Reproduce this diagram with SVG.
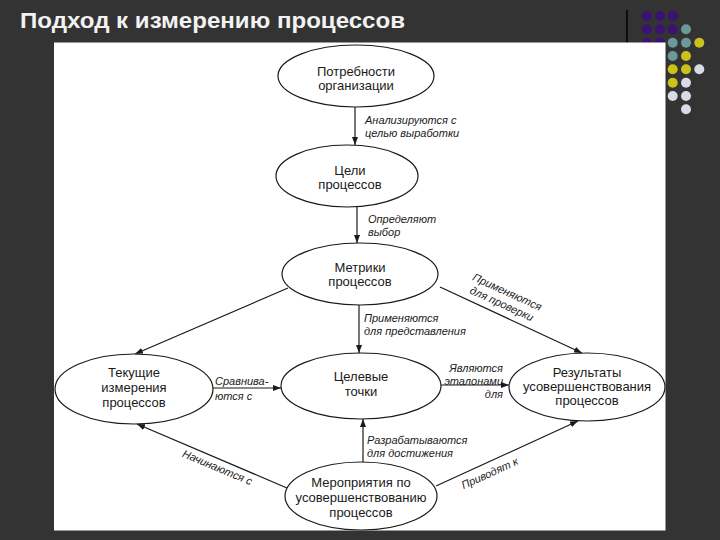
<svg xmlns="http://www.w3.org/2000/svg" width="720" height="540" viewBox="0 0 720 540">
<defs>
<style>
.node ellipse{fill:#fff;stroke:#1a1a1a;stroke-width:1.2}
.node text{font-family:"Liberation Sans",Arial,sans-serif;font-size:13px;fill:#1a1a1a;text-anchor:middle}
.lbl{font-family:"Liberation Sans",Arial,sans-serif;font-size:11px;font-style:italic;fill:#1a1a1a}
.mid{text-anchor:middle}
.end{text-anchor:end}
#connectors line{stroke:#1a1a1a;stroke-width:1.2;marker-end:url(#ah)}
.pu{fill:#3b1273}.te{fill:#6a9a98}.ye{fill:#c9c21a}.wh{fill:#d8dae6}
</style>
<marker id="ah" viewBox="0 0 8 6" refX="8" refY="3" markerWidth="8" markerHeight="6" markerUnits="userSpaceOnUse" orient="auto">
<path d="M0,0 L8,3 L0,6 z" fill="#1a1a1a"/>
</marker>
</defs>
<rect width="720" height="540" fill="#333333"/>
<g id="dots">
<circle class="pu" cx="646.7" cy="16" r="5"/><circle class="pu" cx="660" cy="16" r="5"/><circle class="pu" cx="672.7" cy="16" r="5"/>
<circle class="pu" cx="646.7" cy="29.3" r="5"/><circle class="pu" cx="660" cy="29.3" r="5"/><circle class="pu" cx="672.7" cy="29.3" r="5"/><circle class="te" cx="686" cy="29.3" r="5"/>
<circle class="pu" cx="646.7" cy="42.7" r="5"/><circle class="pu" cx="660" cy="42.7" r="5"/><circle class="te" cx="672.7" cy="42.7" r="5"/><circle class="te" cx="686" cy="42.7" r="5"/><circle class="ye" cx="699.3" cy="42.7" r="5"/>
<circle class="te" cx="672.7" cy="56" r="5"/><circle class="ye" cx="686" cy="56" r="5"/>
<circle class="ye" cx="672.7" cy="69.3" r="5"/><circle class="ye" cx="686" cy="69.3" r="5"/><circle class="wh" cx="699.3" cy="69.3" r="5"/>
<circle class="ye" cx="672.7" cy="82.7" r="5"/><circle class="wh" cx="686" cy="82.7" r="5"/>
<circle class="wh" cx="672.7" cy="96" r="5"/><circle class="wh" cx="686" cy="96" r="5"/>
<circle class="wh" cx="686" cy="109.3" r="5"/>
</g>
<line x1="627" y1="10" x2="627" y2="43" stroke="#000" stroke-width="1.5"/>
<text x="20" y="28" font-family="Liberation Sans,Arial,sans-serif" font-size="22" font-weight="bold" fill="#f2f2f2" textLength="385" lengthAdjust="spacingAndGlyphs">Подход к измерению процессов</text>
<rect x="54" y="42.5" width="611.5" height="488" fill="#fff"/>
<g id="connectors">
<line x1="355" y1="107" x2="355" y2="145"/>
<line x1="357" y1="207" x2="357" y2="243"/>
<line x1="288" y1="288" x2="135" y2="354"/>
<line x1="440" y1="287" x2="582" y2="353"/>
<line x1="359" y1="305" x2="359" y2="353"/>
<line x1="213" y1="388" x2="281" y2="388"/>
<line x1="441" y1="385" x2="509" y2="385"/>
<line x1="363" y1="462" x2="363" y2="419"/>
<line x1="287" y1="488" x2="137" y2="424"/>
<line x1="436" y1="486" x2="578" y2="421"/>
</g>
<g id="labels">
<text class="lbl" x="365" y="124">Анализируются с</text>
<text class="lbl" x="365" y="137">целью выработки</text>
<text class="lbl" x="368" y="223">Определяют</text>
<text class="lbl" x="368" y="236">выбор</text>
<text class="lbl" x="364" y="322">Применяются</text>
<text class="lbl" x="364" y="335">для представления</text>
<text class="lbl" x="215" y="385">Сравнива-</text>
<text class="lbl" x="215" y="400">ются с</text>
<text class="lbl end" x="503" y="372">Являются</text>
<text class="lbl end" x="503" y="385">эталонами</text>
<text class="lbl end" x="503" y="398">для</text>
<text class="lbl" x="367" y="444">Разрабатываются</text>
<text class="lbl" x="367" y="457">для достижения</text>
<g transform="translate(504,299) rotate(24.6)">
<text class="lbl mid" x="0" y="-4">Применяются</text>
<text class="lbl mid" x="0" y="9">для проверки</text>
</g>
<g transform="translate(221,459) rotate(22.8)">
<text class="lbl mid" x="0" y="13">Начинаются с</text>
</g>
<g transform="translate(485,463) rotate(-24.6)">
<text class="lbl mid" x="0" y="15">Приводят к</text>
</g>
</g>
<g id="n1" class="node"><ellipse cx="356" cy="76" rx="78" ry="31"/><text x="356" y="76">Потребности</text><text x="356" y="90">организации</text></g>
<g id="n2" class="node"><ellipse cx="347" cy="176" rx="71" ry="31"/><text x="350" y="175">Цели</text><text x="350" y="189">процессов</text></g>
<g id="n3" class="node"><ellipse cx="360" cy="274" rx="78" ry="31"/><text x="360" y="272">Метрики</text><text x="360" y="286">процессов</text></g>
<g id="n4" class="node"><ellipse cx="134" cy="389" rx="79" ry="35"/><text x="134" y="377">Текущие</text><text x="134" y="392">измерения</text><text x="134" y="407">процессов</text></g>
<g id="n5" class="node"><ellipse cx="361" cy="386" rx="80" ry="33"/><text x="361" y="381">Целевые</text><text x="361" y="396">точки</text></g>
<g id="n6" class="node"><ellipse cx="587" cy="387" rx="78" ry="34"/><text x="587" y="377">Результаты</text><text x="587" y="391">усовершенствования</text><text x="587" y="405">процессов</text></g>
<g id="n7" class="node"><ellipse cx="361" cy="496" rx="76" ry="34"/><text x="361" y="487">Мероприятия по</text><text x="361" y="502">усовершенствованию</text><text x="361" y="517">процессов</text></g>
</svg>
